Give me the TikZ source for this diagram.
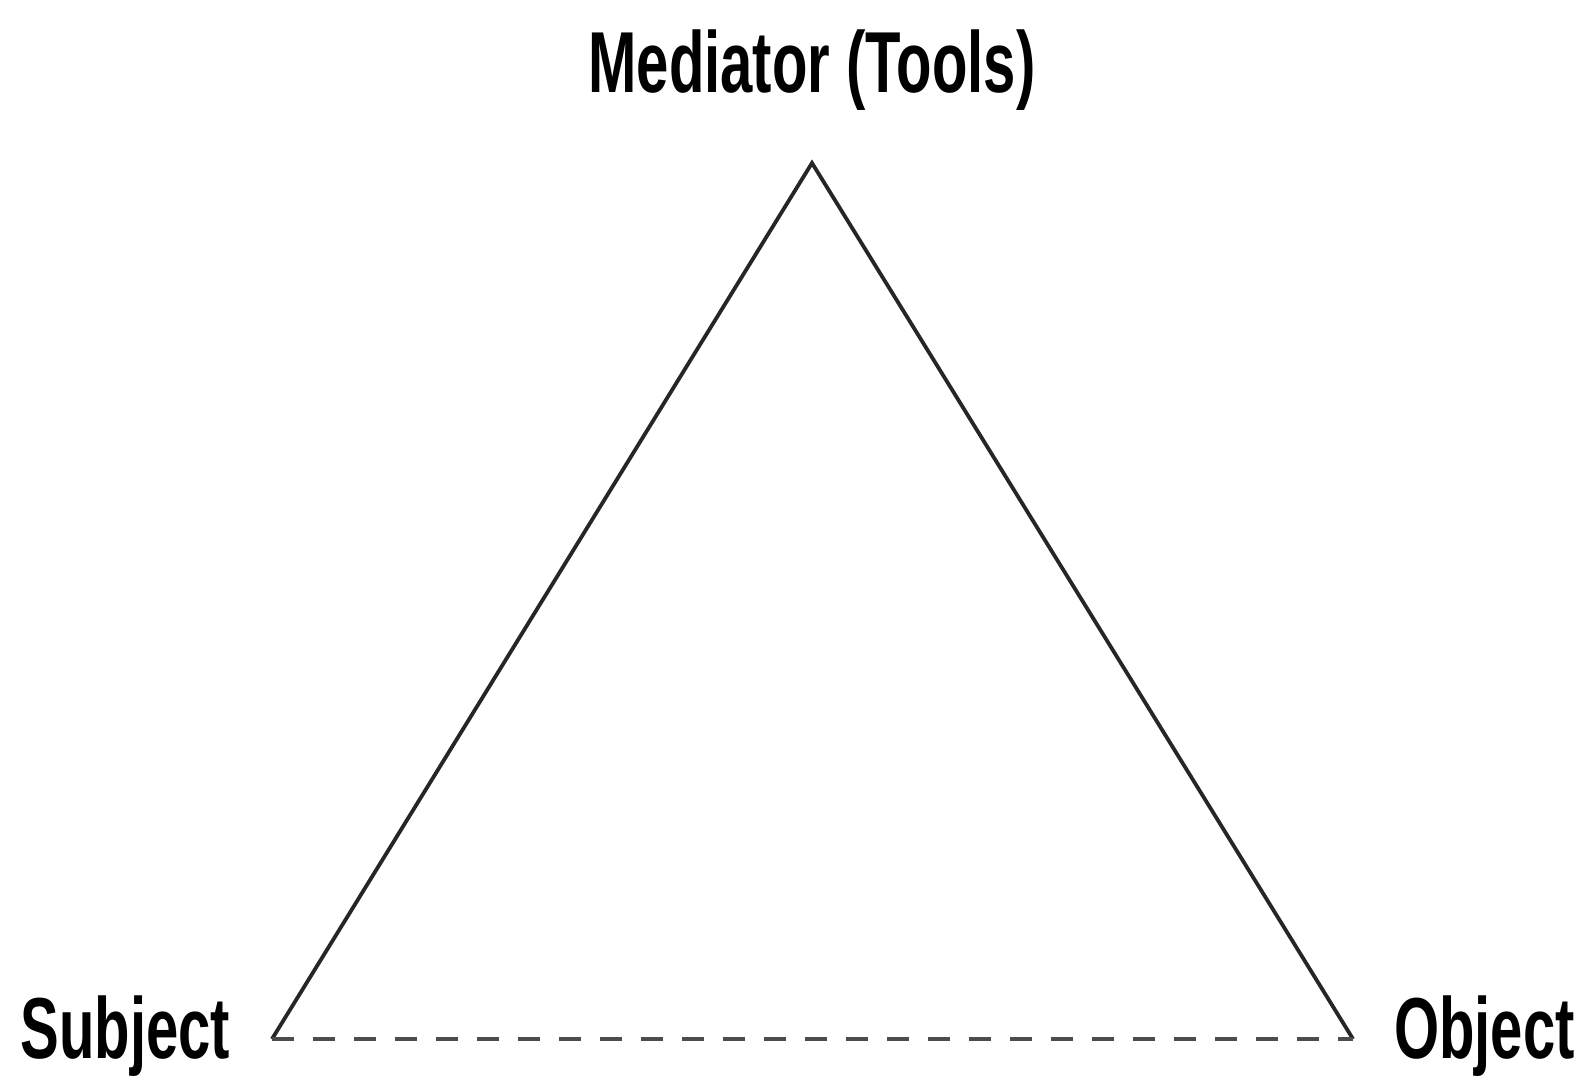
\documentclass[tikz,border=0pt]{standalone}
\usepackage{fontspec}
\setmainfont{Liberation Sans}[FakeStretch=0.67]
\usepackage{tikz}
\usetikzlibrary{positioning}
\tikzset{
  lbl/.style={inner sep=0pt, font=\fontsize{43.3}{50}\selectfont\bfseries, text=black},
  side/.style={draw=black!85, line width=1.9pt, line join=miter},
  link/.style={draw=black!70, line width=1.9pt, dash pattern=on 11pt off 9.5pt}
}
\begin{document}
\begin{tikzpicture}[x=0.5pt, y=-0.5pt]
 \useasboundingbox (0,0) rectangle (1585,1077);
 \node[lbl, anchor=base] (med) at (812,92) {Mediator (Tools)};
 \node[lbl, anchor=base west] (subj) at (20,1058) {Subject};
 \node[lbl, anchor=base east] (obj) at (1575,1058) {Object};
 \coordinate (apex) at (812,163);
 \coordinate (sl) at (272,1039);
 \coordinate (ol) at (1353,1039);
 \draw[side] (sl) -- (apex) -- (ol);
 \draw[link] (sl) -- (ol);
\end{tikzpicture}
\end{document}
